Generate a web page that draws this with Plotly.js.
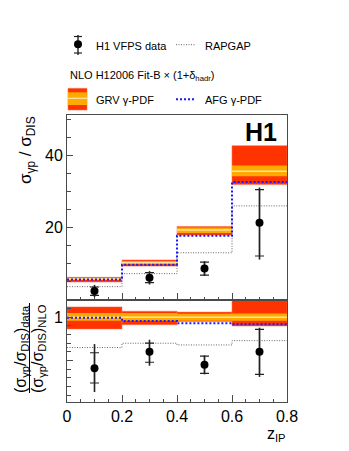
<!DOCTYPE html>
<html>
<head>
<meta charset="utf-8">
<script src="https://cdn.plot.ly/plotly-3.0.1.min.js"></script>
<style>
  html, body { margin: 0; padding: 0; background: #fff; }
  #myDiv { width: 349px; height: 451px; }
</style>
</head>
<body>
<div id="myDiv"></div>
<script>
// H1 VFPS: sigma_gp / sigma_DIS vs z_IP, with ratio panel

// ---------- data ----------
const zEdges = [0, 0.2, 0.4, 0.6, 0.8];
const zCenters = [0.1, 0.3, 0.5, 0.7];

// top panel: sigma_gp / sigma_DIS
const dataXsec = [2.5, 6.2, 8.75, 21.4];
const dataStatUp = [1.1, 1.4, 1.75, 9.2];
const dataStatDn = [1.2, 1.4, 1.85, 9.2];
const dataTotUp = [1.7, 1.8, 2.0, 9.8];
const dataTotDn = [1.7, 1.9, 2.1, 10.2];

const rapgapXsec = [3.7, 7.3, 13.1, 26.1];
const afgXsec = [5.7, 9.8, 17.8, 32.7];
const grvXsec = [5.85, 10.3, 19.4, 35.7];
const grvTotHi = [6.3, 11.1, 20.4, 42.8];
const grvTotLo = [5.0, 9.4, 18.0, 32.0];
const grvScaleHi = [6.1, 10.8, 20.1, 37.3];
const grvScaleLo = [5.6, 9.9, 18.6, 34.3];

// bottom panel: ratio to NLO (GRV)
const ratioData = [0.41, 0.60, 0.45, 0.60];
const ratioStatUp = [0.18, 0.10, 0.10, 0.26];
const ratioStatDn = [0.17, 0.12, 0.10, 0.26];
const ratioTotUp = [0.28, 0.14, 0.11, 0.28];
const ratioTotDn = [0.275, 0.16, 0.11, 0.29];

const ratioRapgap = [0.65, 0.70, 0.68, 0.73];
const ratioAfg = [0.995, 0.957, 0.93, 0.92];
const ratioGrv = [1, 1, 1, 1];
const ratioGrvTotHi = [1.12, 1.07, 1.06, 1.21];
const ratioGrvTotLo = [0.865, 0.915, 0.95, 0.90];
const ratioGrvScaleHi = [1.05, 1.05, 1.04, 1.045];
const ratioGrvScaleLo = [0.96, 0.96, 0.96, 0.96];

// ---------- style ----------
const RED = '#ff3300';
const ORANGE = '#ffaa00';
const PALE = '#ffe39a';
const BLUE = '#1a1aff';
const GREY = '#666666';
const INK = '#222222';
const FRAME = '#4a4a4a';
const FONT = 'Liberation Sans, Arial, Helvetica, sans-serif';
const GREY_DASH = '1px,1.5px';
const BLUE_DASH = '2px,2px';

// plot frame in px (for legend / titles placed in paper coords)
const W = 349, H = 451;
const M = { l: 67, r: 62, t: 115, b: 49 };
const plotW = W - M.l - M.r;
const plotH = H - M.t - M.b;
const px = (x) => (x - M.l) / plotW;
const py = (y) => (H - M.b - y) / plotH;
const splitY = 300; // boundary between panels
const splitFrac = py(splitY);

// ---------- helpers ----------
function stepY(vals) {
  return vals.concat([vals[vals.length - 1]]);
}

function bandTrace(hi, lo, color, xa, ya) {
  return {
    type: 'bar', x: zCenters, base: lo,
    y: hi.map((h, i) => h - lo[i]),
    width: 0.2,
    marker: { color, line: { color: 'rgba(255,110,80,0.55)', width: 1 } },
    xaxis: xa, yaxis: ya, hoverinfo: 'skip'
  };
}

function scaleBandTrace(hi, lo, xa, ya) {
  return {
    type: 'bar', x: zCenters, base: lo,
    y: hi.map((h, i) => h - lo[i]),
    width: 0.2,
    marker: { color: ORANGE, line: { width: 0 } },
    xaxis: xa, yaxis: ya, hoverinfo: 'skip'
  };
}

function centreSegments(vals, xa, ya) {
  const xs = [], ys = [];
  vals.forEach((v, i) => {
    xs.push(zEdges[i], zEdges[i + 1], null);
    ys.push(v, v, null);
  });
  return {
    type: 'scatter', mode: 'lines', x: xs, y: ys,
    line: { color: PALE, width: 1.5 },
    xaxis: xa, yaxis: ya, hoverinfo: 'skip'
  };
}

function stepTrace(vals, color, width, dash, xa, ya) {
  return {
    type: 'scatter', mode: 'lines', x: zEdges, y: stepY(vals),
    line: { color, width, dash, shape: 'hv' },
    xaxis: xa, yaxis: ya, hoverinfo: 'skip'
  };
}

function dataTraces(vals, totUp, totDn, statUp, statDn, xa, ya) {
  return [
    {
      type: 'scatter', mode: 'markers', x: zCenters, y: vals,
      marker: { size: 1, color: 'rgba(0,0,0,0)' },
      error_y: { type: 'data', symmetric: false, array: totUp, arrayminus: totDn,
        color: INK, thickness: 1.6, width: 0 },
      xaxis: xa, yaxis: ya, hoverinfo: 'skip'
    },
    {
      type: 'scatter', mode: 'markers', x: zCenters, y: vals,
      marker: { size: 8, color: '#000' },
      error_y: { type: 'data', symmetric: false, array: statUp, arrayminus: statDn,
        color: INK, thickness: 1.2, width: 4.5 },
      xaxis: xa, yaxis: ya
    }
  ];
}

// ---------- traces ----------
const traces = [
  // top panel
  bandTrace(grvTotHi, grvTotLo, RED, 'x2', 'y2'),
  scaleBandTrace(grvScaleHi, grvScaleLo, 'x2', 'y2'),
  centreSegments(grvXsec, 'x2', 'y2'),
  stepTrace(rapgapXsec, GREY, 1, GREY_DASH, 'x2', 'y2'),
  stepTrace(afgXsec, BLUE, 2, BLUE_DASH, 'x2', 'y2'),
  ...dataTraces(dataXsec, dataTotUp, dataTotDn, dataStatUp, dataStatDn, 'x2', 'y2'),
  // ratio panel
  bandTrace(ratioGrvTotHi, ratioGrvTotLo, RED, 'x', 'y'),
  scaleBandTrace(ratioGrvScaleHi, ratioGrvScaleLo, 'x', 'y'),
  centreSegments(ratioGrv, 'x', 'y'),
  stepTrace(ratioRapgap, GREY, 1, GREY_DASH, 'x', 'y'),
  stepTrace(ratioAfg, BLUE, 2, BLUE_DASH, 'x', 'y'),
  ...dataTraces(ratioData, ratioTotUp, ratioTotDn, ratioStatUp, ratioStatDn, 'x', 'y')
];

// ---------- axes ----------
const axisCommon = {
  showline: true, mirror: true, linecolor: FRAME, linewidth: 1,
  showgrid: false, zeroline: false,
  ticks: 'inside', tickcolor: FRAME,
  tickfont: { size: 16, color: '#000', family: FONT }
};

const layout = {
  width: W, height: H,
  margin: M,
  paper_bgcolor: '#fff', plot_bgcolor: '#fff',
  showlegend: false,
  barmode: 'overlay',
  font: { family: FONT, color: '#000' },
  xaxis: Object.assign({}, axisCommon, {
    domain: [0, 1], anchor: 'y', range: [0, 0.8],
    tick0: 0, dtick: 0.2, ticklen: 7,
    minor: { dtick: 0.05, ticks: 'inside', ticklen: 3.5, tickcolor: FRAME }
  }),
  yaxis: Object.assign({}, axisCommon, {
    domain: [0, splitFrac], anchor: 'x', range: [0.02, 1.2],
    tickmode: 'array', tickvals: [0.5, 1], ticktext: ['', '1'], ticklen: 6,
    minor: { tick0: 0, dtick: 0.1, ticks: 'inside', ticklen: 3.5, tickcolor: FRAME }
  }),
  xaxis2: Object.assign({}, axisCommon, {
    domain: [0, 1], anchor: 'y2', matches: 'x', range: [0, 0.8],
    tick0: 0, dtick: 0.2, ticklen: 7, showticklabels: false,
    minor: { dtick: 0.05, ticks: 'inside', ticklen: 3.5, tickcolor: FRAME }
  }),
  yaxis2: Object.assign({}, axisCommon, {
    domain: [splitFrac, 1], anchor: 'x2', range: [0, 51.3],
    tickmode: 'array', tickvals: [0, 20, 40], ticktext: ['', '20', '40'], ticklen: 6,
    minor: { tick0: 0, dtick: 5, ticks: 'inside', ticklen: 3.5, tickcolor: FRAME }
  }),
  shapes: [],
  annotations: []
};

// ---------- titles ----------
const ann = (text, x, y, opts) => Object.assign({
  text, x: px(x), y: py(y), xref: 'paper', yref: 'paper',
  showarrow: false, xanchor: 'left', yanchor: 'middle',
  font: { size: 11, color: '#000', family: FONT }
}, opts || {});

layout.annotations.push(
  ann('<b>H1</b>', 279, 132, { xanchor: 'right', font: { size: 25, color: '#000', family: FONT } }),
  ann('σ<sub>γp</sub> / σ<sub>DIS</sub>', 27, 150, { xanchor: 'center', textangle: -90,
    font: { size: 17, color: '#000', family: FONT } }),
  ann('(σ<sub>γp</sub>/σ<sub>DIS</sub>)<sub>data</sub>', 21, 349, { xanchor: 'center', textangle: -90,
    font: { size: 16, color: '#000', family: FONT } }),
  ann('(σ<sub>γp</sub>/σ<sub>DIS</sub>)<sub>NLO</sub>', 38, 349, { xanchor: 'center', textangle: -90,
    font: { size: 16, color: '#000', family: FONT } }),
  ann('z<sub>IP</sub>', 288, 434, { xanchor: 'right', font: { size: 16, color: '#000', family: FONT } })
);
// fraction bar of the ratio title
layout.shapes.push({ type: 'line', xref: 'paper', yref: 'paper',
  x0: px(29.5), x1: px(29.5), y0: py(303), y1: py(393), line: { color: '#000', width: 1 } });

// ---------- legend (drawn above the frame) ----------
layout.annotations.push(
  ann('H1 VFPS data', 94, 46),
  ann('RAPGAP', 203, 46),
  ann('NLO H12006 Fit-B × (1+δ<sub>hadr</sub>)', 68, 76),
  ann('GRV γ-PDF', 94, 100),
  ann('AFG γ-PDF', 203, 100)
);
const seg = (x0, y0, x1, y1, color, width, dash) => ({
  type: 'line', xref: 'paper', yref: 'paper',
  x0: px(x0), y0: py(y0), x1: px(x1), y1: py(y1),
  line: { color, width, dash: dash || 'solid' }
});
const box = (x0, y0, x1, y1, fill, lineColor) => ({
  type: 'rect', xref: 'paper', yref: 'paper',
  x0: px(x0), y0: py(y0), x1: px(x1), y1: py(y1),
  fillcolor: fill, line: { color: lineColor || fill, width: lineColor ? 1 : 0 }
});
layout.shapes.push(
  // data symbol
  seg(78, 35, 78, 55, INK, 1.4),
  seg(74, 36.5, 82, 36.5, INK, 1.2),
  seg(74, 53, 82, 53, INK, 1.2),
  { type: 'circle', xref: 'paper', yref: 'paper', x0: px(74), x1: px(82), y0: py(40.3), y1: py(48.3),
    fillcolor: '#000', line: { color: '#000', width: 0 } },
  // RAPGAP / AFG lines
  seg(176, 44.7, 195, 44.7, GREY, 1, GREY_DASH),
  seg(176, 99.3, 195, 99.3, BLUE, 2, BLUE_DASH),
  // GRV box
  box(68, 88.3, 87, 110, RED, 'rgba(255,110,80,0.55)'),
  box(68, 92.3, 87, 105, ORANGE),
  box(68, 97.7, 87, 99, PALE)
);

Plotly.newPlot('myDiv', traces, layout, { displayModeBar: false, staticPlot: true });
document.title = 'H1 VFPS sigma ratio vs z_IP';
</script>
</body>
</html>
